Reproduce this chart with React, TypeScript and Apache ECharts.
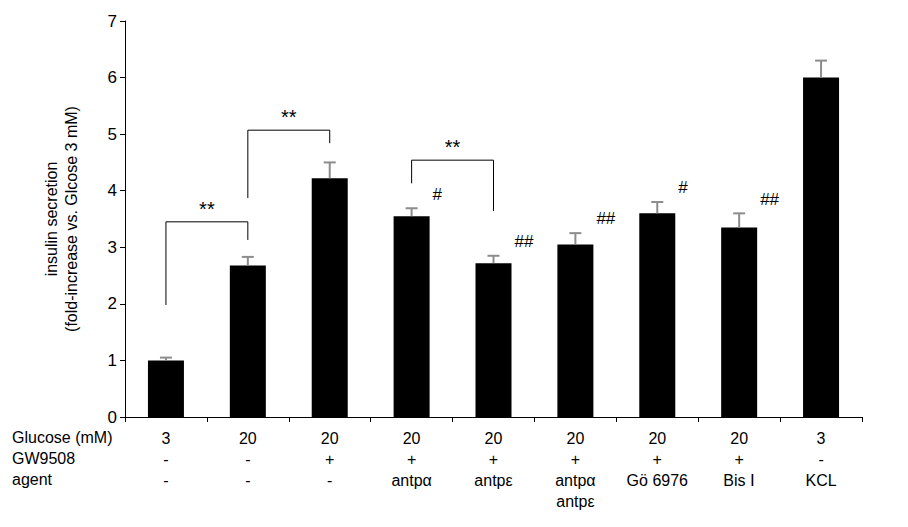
import React, { useEffect, useRef } from "react";
import * as echarts from "echarts";

const glucose = ["3", "20", "20", "20", "20", "20", "20", "20", "3"];
const gw9508 = ["-", "-", "+", "+", "+", "+", "+", "+", "-"];
const agent = ["-", "-", "-", "antpα", "antpε", "antpα\nantpε", "Gö 6976", "Bis Ⅰ", "KCL"];
const values = [1.0, 2.68, 4.22, 3.55, 2.72, 3.05, 3.6, 3.35, 6.0];
const errors = [0.05, 0.15, 0.28, 0.14, 0.13, 0.2, 0.2, 0.25, 0.3];
const hashes = ["", "", "", "#", "##", "##", "#", "##", ""];
// brackets: [leftIdx, rightIdx, topValue, leftLegBottom, rightLegBottom]
const brackets = [
  [0, 1, 3.45, 1.98, 3.13],
  [1, 2, 5.07, 3.87, 4.84],
  [3, 4, 4.54, 4.13, 3.64],
];
const rowLabels = ["Glucose (mM)", "GW9508", "agent"];

const FONT = "Liberation Sans, Arial, sans-serif";

export default function App() {
  const ref = useRef<HTMLDivElement>(null);
  useEffect(() => {
    const chart = echarts.init(ref.current!, null, { renderer: "svg" });
    const cats = glucose.map((g, i) => `${g}\n${gw9508[i]}\n${agent[i]}`);
    chart.setOption({
      animation: false,
      textStyle: { fontFamily: FONT },
      grid: { left: 117, right: 38, top: 13, bottom: 110 },
      xAxis: {
        type: "category",
        data: cats,
        axisLine: { lineStyle: { color: "#000" } },
        axisTick: { show: true, lineStyle: { color: "#000" } },
        axisLabel: { color: "#000", fontSize: 16, lineHeight: 21, margin: 11, fontFamily: FONT },
      },
      yAxis: {
        type: "value",
        min: 0,
        max: 7,
        interval: 1,
        name: "insulin secretion\n(fold-increase vs. Glcose 3 mM)",
        nameLocation: "middle",
        nameGap: 44,
        nameTextStyle: { color: "#000", fontSize: 16, lineHeight: 20, fontFamily: FONT },
        axisLine: { show: true, lineStyle: { color: "#000" } },
        axisTick: { show: true, lineStyle: { color: "#000" } },
        splitLine: { show: false },
        axisLabel: { color: "#000", fontSize: 17, fontFamily: FONT },
      },
      series: [
        {
          type: "bar",
          data: values,
          barWidth: 36,
          itemStyle: { color: "#000" },
        },
        {
          type: "custom",
          data: values.map((v, i) => [i, v, errors[i]]),
          renderItem: (params: any, api: any) => {
            const x = api.coord([api.value(0), 0])[0];
            const top = api.coord([api.value(0), api.value(1) + api.value(2)])[1];
            const base = api.coord([api.value(0), api.value(1)])[1];
            const st = { stroke: "#8c8c8c", lineWidth: 2 };
            return {
              type: "group",
              children: [
                { type: "line", shape: { x1: x, y1: base, x2: x, y2: top }, style: st },
                { type: "line", shape: { x1: x - 6, y1: top, x2: x + 6, y2: top }, style: st },
              ],
            };
          },
          z: 3,
        },
      ],
    });
    const g: any[] = [];
    const px = (i: number, v: number) => chart.convertToPixel({ xAxisIndex: 0, yAxisIndex: 0 }, [i, v]);
    brackets.forEach(([a, b, t, la, rb]) => {
      const p1 = px(a, t), p2 = px(b, t), p3 = px(a, la), p4 = px(b, rb);
      g.push({
        type: "polyline",
        shape: { points: [[p3[0], p3[1]], [p1[0], p1[1]], [p2[0], p2[1]], [p4[0], p4[1]]] },
        style: { stroke: "#000", lineWidth: 1, fill: null },
      });
      g.push({
        type: "text",
        x: (p1[0] + p2[0]) / 2,
        y: p1[1] - 3,
        style: { text: "**", font: `20px ${FONT}`, fill: "#000", align: "center", verticalAlign: "bottom" },
      });
    });
    hashes.forEach((h, i) => {
      if (!h) return;
      const p = px(i, values[i] + errors[i] + 0.1);
      g.push({
        type: "text",
        x: p[0] + 21,
        y: p[1],
        style: { text: h, font: `17px ${FONT}`, fill: "#000", align: "left", verticalAlign: "bottom" },
      });
    });
    rowLabels.forEach((r, k) => {
      g.push({
        type: "text",
        left: 4,
        top: 421 + k * 21,
        style: { text: r, font: `16px ${FONT}`, fill: "#000" },
      });
    });
    chart.setOption({ graphic: g });
    return () => chart.dispose();
  }, []);
  return <div ref={ref} style={{ width: 892, height: 519 }} />;
}
